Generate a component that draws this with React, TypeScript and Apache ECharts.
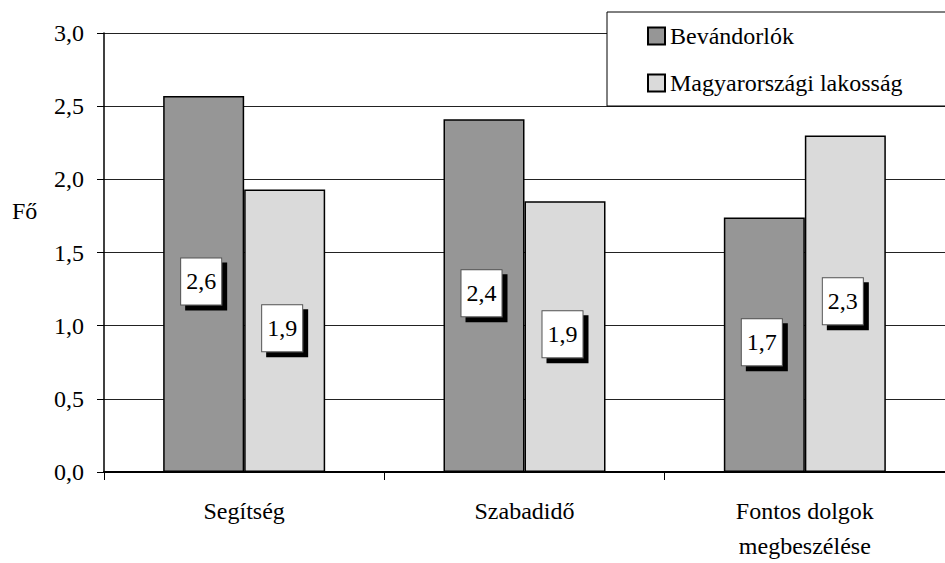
import React, { useEffect, useRef } from "react";
import * as echarts from "echarts";

const categories = ["Segítség", "Szabadidő", "Fontos dolgok\nmegbeszélése"];
const seriesNames = ["Bevándorlók", "Magyarországi lakosság"];
const immigrants = [2.57, 2.41, 1.74];
const hungarians = [1.93, 1.85, 2.3];
const yTicks = [0, 0.5, 1, 1.5, 2, 2.5, 3];

const FONT = "Liberation Serif";
const fmt = (v: number) => v.toFixed(1).replace(".", ",");

export default function App() {
  const ref = useRef<HTMLDivElement>(null);
  useEffect(() => {
    if (!ref.current) return;
    const chart = echarts.init(ref.current, undefined, { renderer: "svg" });
    const label = {
      show: true,
      position: "inside",
      offset: [-2.5, -2.5],
      formatter: (p: any) => fmt(p.value),
      fontFamily: FONT,
      fontSize: 24,
      color: "#000",
      lineHeight: 30,
      backgroundColor: "#fff",
      borderColor: "#555",
      borderWidth: 1,
      padding: [8, 5],
      shadowColor: "#000",
      shadowOffsetX: 5,
      shadowOffsetY: 5,
      shadowBlur: 0,
    };
    chart.setOption({
      animation: false,
      backgroundColor: "#fff",
      textStyle: { fontFamily: FONT },
      grid: { left: 104, top: 33, right: -7, bottom: 83, containLabel: false },
      legend: {
        left: 607,
        top: 12,
        orient: "vertical",
        data: seriesNames,
        backgroundColor: "#fff",
        borderColor: "#000",
        borderWidth: 1,
        padding: [12, 60, 11, 40],
        itemGap: 23,
        itemWidth: 17,
        itemHeight: 17,
        icon: "rect",
        itemStyle: { borderColor: "#000", borderWidth: 2 },
        textStyle: { fontFamily: FONT, fontSize: 24, color: "#000", lineHeight: 24 },
      },
      xAxis: {
        type: "category",
        data: categories,
        axisLine: { lineStyle: { color: "#000", width: 2 } },
        axisTick: { show: true, length: 8, lineStyle: { color: "#000", width: 1 } },
        axisLabel: { fontFamily: FONT, fontSize: 24, color: "#000", margin: 21, lineHeight: 35 },
        splitLine: { show: false },
      },
      yAxis: {
        type: "value",
        min: yTicks[0],
        max: yTicks[yTicks.length - 1],
        interval: 0.5,
        axisLine: { show: true, lineStyle: { color: "#000", width: 1.5 } },
        axisTick: { show: true, length: 7, lineStyle: { color: "#000", width: 1 } },
        axisLabel: {
          fontFamily: FONT,
          fontSize: 24,
          color: "#000",
          margin: 20,
          formatter: (v: number) => fmt(v),
        },
        splitLine: { show: true, lineStyle: { color: "#222", width: 1 } },
      },
      graphic: [
        {
          type: "text",
          left: 12,
          top: 199,
          style: { text: "Fő", fontFamily: FONT, fontSize: 24, fill: "#000" },
        },
      ],
      series: [
        {
          name: seriesNames[0],
          type: "bar",
          data: immigrants,
          barWidth: 81,
          barGap: "0%",
          itemStyle: { color: "#969696", borderColor: "#000", borderWidth: 1.5 },
          label,
        },
        {
          name: seriesNames[1],
          type: "bar",
          data: hungarians,
          barWidth: 81,
          barGap: "0%",
          itemStyle: { color: "#dadada", borderColor: "#000", borderWidth: 1.5 },
          label,
        },
      ],
    });
    return () => chart.dispose();
  }, []);
  return (
    <div
      ref={ref}
      style={{ position: "absolute", left: 0, top: 0, width: 945, height: 563, overflow: "hidden" }}
    />
  );
}
